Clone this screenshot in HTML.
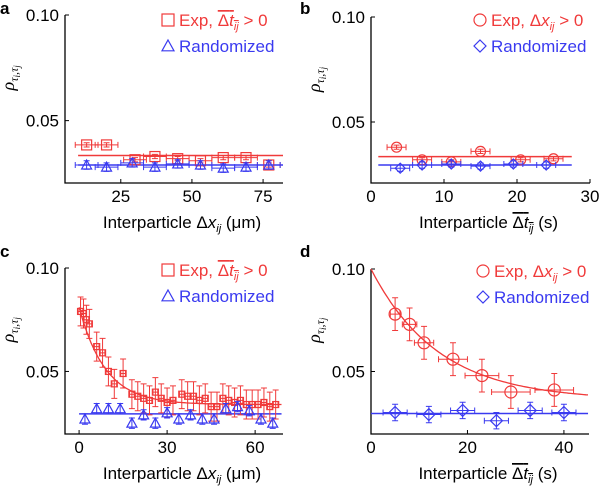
<!DOCTYPE html>
<html><head><meta charset="utf-8"><style>
body{margin:0;background:#fff;}
svg{display:block;font-family:"Liberation Sans",sans-serif;}
</style></head><body>
<svg id="c" width="600" height="486"></svg>
<script>
// Panel a data
const aExpX=[13,20,30,37,45,53,61,69,77];
const aExpY=[0.0385,0.0385,0.0315,0.033,0.032,0.031,0.0325,0.0325,0.029];
const aRndX=[13,20,29,37,45,53,61,69,77];
const aRndY=[0.029,0.028,0.030,0.028,0.0295,0.029,0.0275,0.028,0.029];
const aFit=[0.0335,0.029];
// Panel b data
const bExpX=[3.5,7,11,15,20.5,25];
const bExpY=[0.038,0.032,0.031,0.036,0.032,0.0325];
const bRndX=[4,7,11,15,19.5,24];
const bRndY=[0.028,0.0295,0.030,0.029,0.030,0.0295];
const bFit=[0.0335,0.0295];
// Panel c data
const cExpX=[0.5,1.5,2.5,3.5,6,8,10,12,15,18,20,22,24,26,28,30,32,35,37,39,41,43,45,47,49,51,53,55,57,59,61,63,65,67];
const cExpY=[0.079,0.078,0.075,0.073,0.062,0.059,0.050,0.044,0.049,0.039,0.038,0.037,0.036,0.040,0.037,0.035,0.036,0.039,0.038,0.038,0.036,0.037,0.033,0.033,0.037,0.036,0.035,0.036,0.034,0.034,0.034,0.035,0.033,0.034];
const cRndX=[2,6,10,14,18,22,26,30,34,38,42,46,50,54,58,62,66];
const cRndY=[0.027,0.032,0.032,0.032,0.025,0.029,0.025,0.030,0.027,0.029,0.027,0.027,0.032,0.033,0.031,0.027,0.025];
const cFitParams=[0.034,0.047,9];
const cRndLine=0.0295;
// Panel d data
const dExpX=[5,8,11,17,23,29,38];
const dExpY=[0.078,0.073,0.064,0.056,0.048,0.040,0.041];
const dExpXErr=[1,1.5,2,3,3.5,4,4];
const dRndX=[5,12,19,26,33,40];
const dRndY=[0.030,0.029,0.031,0.026,0.031,0.030];
const dFitParams=[0.036,0.064,14];
const dRndLine=0.0295;

const NS="http://www.w3.org/2000/svg";
const svg=document.getElementById('c');
function mk(tag,attrs,parent){const e=document.createElementNS(NS,tag);for(const k in attrs)e.setAttribute(k,attrs[k]);(parent||svg).appendChild(e);return e;}
const RED="#f03a3a",BLUE="#3a3af0";

function panel(p){
  const g=mk('g',{});
  
  
  const sx=v=>p.x0+(v-p.xmin)/(p.xmax-p.xmin)*(p.x1-p.x0);
  const sy=v=>p.y0+(0.10-v)/(0.10-0.02)*(p.y1-p.y0);
  const ax=mk('path',{d:`M${p.x0},${sy(0.10)}V${p.yb}H${p.xr}`,fill:'none',stroke:'#000','stroke-width':1.3},g);
  
  
  [0.10,0.05].forEach(v=>{
    mk('line',{x1:p.x0,x2:p.x0+4,y1:sy(v),y2:sy(v),stroke:'#000'},g);
    const t=mk('text',{x:p.x0-6,y:sy(v)+6,'text-anchor':'end','font-size':17},g);t.textContent=v.toFixed(2);
    
    
  });
  p.xticks.forEach(v=>{
    mk('line',{x1:sx(v),x2:sx(v),y1:p.yb,y2:p.yb-4,stroke:'#000'},g);
    const t=mk('text',{x:sx(v),y:p.yb+19,'text-anchor':'middle','font-size':17},g);t.textContent=v;
    
    
  });
  const L=mk('text',{x:p.lx,y:p.ly,'font-size':17,'font-weight':'bold'},g);L.textContent=p.id;
  
  
  const yl=mk('text',{transform:`translate(${p.x0-51},${sy(0.075)+10}) rotate(-90)`,'font-size':18,'font-family':'Liberation Serif,serif','font-style':'italic','text-anchor':'middle'},g);
  yl.innerHTML='ρ<tspan font-size="12" dy="4">τ</tspan><tspan font-size="9" dy="2">i</tspan><tspan font-size="12" dy="-2">,τ</tspan><tspan font-size="9" dy="2">j</tspan>';
  
  
  const xl=mk('text',{x:(p.x0+p.xr)/2+8,y:p.yb+45,'text-anchor':'middle','font-size':17},g);
  xl.innerHTML=p.xlab;
  
  
  function line(v,col,nm){const l=mk('line',{x1:sx(p.lineX[0]),x2:sx(p.lineX[1]),y1:sy(v),y2:sy(v),stroke:col,'stroke-width':1.5},g);
    
    }
  if(p.expLine!=null) line(p.expLine,RED,'exp-fit-line');
  if(p.expFit){const [c,a,t]=p.expFit;let d='';for(let v=p.fitX[0];v<=p.fitX[1]+1e-9;v+=(p.fitX[1]-p.fitX[0])/100){d+=(d?'L':'M')+sx(v).toFixed(1)+','+sy(c+a*Math.exp(-v/t)).toFixed(1);}
    const f=mk('path',{d,fill:'none',stroke:RED,'stroke-width':1.3},g);
    
    }
  line(p.rndLine,BLUE,'randomized-fit-line');
  function marker(shape,cx,cy,col,s,par){
    if(shape==='square')return mk('rect',{x:cx-s,y:cy-s,width:2*s,height:2*s,fill:'none',stroke:col,'stroke-width':1.2},par);
    if(shape==='circle')return mk('circle',{cx,cy,r:s,fill:'none',stroke:col,'stroke-width':1.2},par);
    if(shape==='tri')return mk('path',{d:`M${cx},${cy-s}L${cx+s},${cy+s*0.8}L${cx-s},${cy+s*0.8}Z`,fill:'none',stroke:col,'stroke-width':1.2},par);
    return mk('path',{d:`M${cx},${cy-s}L${cx+s},${cy}L${cx},${cy+s}L${cx-s},${cy}Z`,fill:'none',stroke:col,'stroke-width':1.2},par);
  }
  function series(X,Y,xe,ye,shape,col,s,nm){
    X.forEach((x,i)=>{
      const cx=sx(x),cy=sy(Y[i]);
      const pg=mk('g',{},g);
      
      
      const xer=Array.isArray(xe)?xe[i]:xe;
      if(xer){const x1=sx(x-xer),x2=sx(x+xer);mk('path',{d:`M${x1},${cy}H${x2}M${x1},${cy-3}V${cy+3}M${x2},${cy-3}V${cy+3}`,stroke:col,fill:'none'},pg);}
      if(ye){const y1=sy(Y[i]+ye),y2=sy(Y[i]-ye);mk('path',{d:`M${cx},${y1}V${y2}M${cx-3},${y1}H${cx+3}M${cx-3},${y2}H${cx+3}`,stroke:col,fill:'none'},pg);}
      marker(shape,cx,cy,col,s,pg);
    });
  }
  series(p.expX,p.expY,p.expXe,p.expYe,p.expShape,RED,p.ms,'exp-point');
  series(p.rndX,p.rndY,p.rndXe,p.rndYe,p.rndShape,BLUE,p.rms||p.ms,'randomized-point');
  const lg=mk('g',{},g);
  
  
  marker(p.expShape,p.legX,p.legY-6,RED,6,lg);
  const t1=mk('text',{x:p.legX+11,y:p.legY,fill:RED,'font-size':17},lg);t1.innerHTML=p.expLeg;
  marker(p.rndShape,p.legX,p.legY+20,BLUE,6,lg);
  const t2=mk('text',{x:p.legX+11,y:p.legY+26,fill:BLUE,'font-size':17},lg);t2.textContent='Randomized';
}
const dtLab='<tspan text-decoration="overline">Δ<tspan font-style="italic">t</tspan><tspan font-size="11" dy="4" font-style="italic">ij</tspan></tspan>';
const dxLab='Δ<tspan font-style="italic">x</tspan><tspan font-size="11" dy="4" font-style="italic">ij</tspan>';
panel({id:'a',x0:65,xr:283,xmin:5.4,xmax:82,x1:283,y0:15,y1:184,yb:183,xticks:[25,50,75],lx:0,ly:14,
  xlab:'Interparticle '+dxLab+'<tspan dy="-4"> (μm)</tspan>',lineX:[10,82],expLine:aFit[0],rndLine:aFit[1],
  expX:aExpX,expY:aExpY,expXe:4,expYe:0.001,rndX:aRndX,rndY:aRndY,rndXe:4,rndYe:0.002,expShape:'square',rndShape:'tri',ms:5,
  legX:168,legY:26,expLeg:'Exp, '+dtLab+'<tspan dy="-4"> &gt; 0</tspan>'});
panel({id:'b',x0:371,xr:590,xmin:0,xmax:30,x1:590,y0:17,y1:185,yb:183,xticks:[0,10,20,30],lx:300,ly:14,
  xlab:'Interparticle '+dtLab+'<tspan dy="-4"> (s)</tspan>',lineX:[1,27.5],expLine:bFit[0],rndLine:bFit[1],
  expX:bExpX,expY:bExpY,expXe:1.3,expYe:0.001,rndX:bRndX,rndY:bRndY,rndXe:1.3,rndYe:0.0015,expShape:'circle',rndShape:'diamond',ms:5,
  legX:480,legY:26,expLeg:'Exp, '+dxLab+'<tspan dy="-4"> &gt; 0</tspan>'});
panel({id:'c',x0:65,xr:283,xmin:-4.8,xmax:69.5,x1:283,y0:268,y1:433.5,yb:434,xticks:[0,30,60],lx:0,ly:257,
  xlab:'Interparticle '+dxLab+'<tspan dy="-4"> (μm)</tspan>',lineX:[0,69],expLine:null,expFit:cFitParams,fitX:[0,69],rndLine:cRndLine,
  expX:cExpX,expY:cExpY,expXe:0.8,expYe:0.007,rndX:cRndX,rndY:cRndY,rndXe:0,rndYe:0.0025,expShape:'square',rndShape:'tri',ms:3,rms:5,
  legX:168,legY:276,expLeg:'Exp, '+dtLab+'<tspan dy="-4"> &gt; 0</tspan>'});
panel({id:'d',x0:371,xr:589,xmin:0,xmax:45.2,x1:589,y0:269,y1:433,yb:434,xticks:[0,20,40],lx:300,ly:257,
  xlab:'Interparticle '+dtLab+'<tspan dy="-4"> (s)</tspan>',lineX:[0,45],expLine:null,expFit:dFitParams,fitX:[0,45],rndLine:dRndLine,
  expX:dExpX,expY:dExpY,expXe:dExpXErr,expYe:0.008,rndX:dRndX,rndY:dRndY,rndXe:2.5,rndYe:0.004,expShape:'circle',rndShape:'diamond',ms:6,
  legX:483,legY:277,expLeg:'Exp, '+dxLab+'<tspan dy="-4"> &gt; 0</tspan>'});
</script>
</body></html>
